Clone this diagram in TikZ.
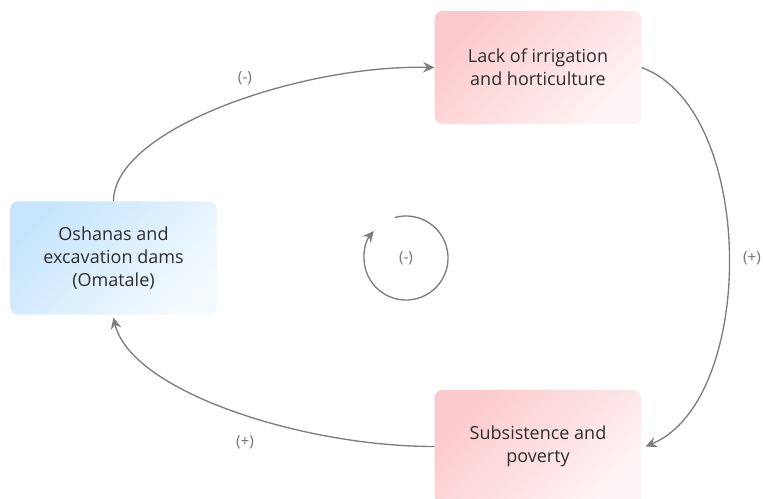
\documentclass[tikz,border=0pt]{standalone}
\usepackage{fontspec}
\setmainfont{Open Sans}
\usetikzlibrary{arrows.meta}

\definecolor{boxblue}{RGB}{198,229,252}
\definecolor{boxpink}{RGB}{252,201,204}
\definecolor{txtgray}{RGB}{45,45,45}
\definecolor{linegray}{RGB}{125,125,125}
\definecolor{lblgray}{RGB}{115,115,115}

\begin{document}
\begin{tikzpicture}[x=0.75pt,y=0.75pt,yscale=-1,xscale=1,
  factor/.style={rounded corners=6pt,minimum width=155pt,minimum height=85pt,
    align=center,text=txtgray,font=\fontsize{13.5}{17.5}\selectfont,
    bottom color=white!80!#1,top color=#1,shading angle=45},
  link/.style={draw=linegray,line width=1pt,-{Stealth[length=8.5pt,width=8pt,inset=3pt]}},
  sign/.style={text=lblgray,font=\fontsize{11.5}{13}\selectfont}]
\useasboundingbox (0,0) rectangle (763,499);

%Shape: Rectangle
\node [factor=boxblue] (omatale) at (113.5,258) {Oshanas and\\excavation dams\\(Omatale)};
%Shape: Rectangle
\node [factor=boxpink] (lack) at (538,67.5) {Lack of irrigation\\and horticulture};
%Shape: Rectangle
\node [factor=boxpink] (poverty) at (538,446.5) {Subsistence and\\poverty};

%Curve Lines
\draw [link] (omatale.north) .. controls +(0,-72) and +(-134,-3) .. (lack.west);
%Curve Lines
\draw [link] (lack.east) .. controls +(115,42) and +(112,-47) .. ([xshift=3]poverty.east);
%Curve Lines
\draw [link] (poverty.west) .. controls +(-134,0) and +(17,73) .. ([yshift=2]omatale.south);

% Text Node
\node [sign] (loopsign) at (406,258) {(-)};
%Shape: Arc
\draw [link] (loopsign.center) ++(255:42) arc [start angle=255,end angle=580,radius=42];

% Text Node
\node [sign] (sigtop) at (245,78) {(-)};
% Text Node
\node [sign] (sigright) at (752,258) {(+)};
% Text Node
\node [sign] (sigbottom) at (245,442) {(+)};

\end{tikzpicture}
\end{document}
